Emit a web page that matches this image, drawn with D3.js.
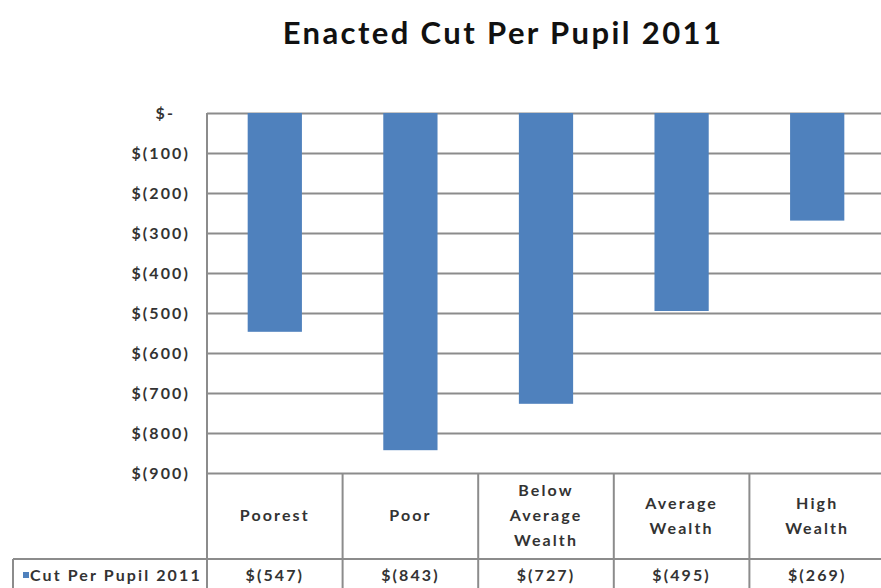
<!DOCTYPE html>
<html>
<head>
<meta charset="utf-8">
<script src="https://cdn.jsdelivr.net/npm/d3@7"></script>
<style>
  html, body { margin: 0; padding: 0; background: #fff; overflow: hidden; }
  svg { display: block; font-family: Lato, "Open Sans", sans-serif; }
</style>
</head>
<body>
<svg id="chart" width="881" height="588"></svg>
<script>
const title = 'Enacted Cut Per Pupil 2011';
const seriesName = 'Cut Per Pupil 2011';
const categories = ['Poorest', 'Poor', 'Below Average Wealth', 'Average Wealth', 'High Wealth'];
// how each category name wraps in the data table header
const categoryLines = [['Poorest'], ['Poor'], ['Below', 'Average', 'Wealth'], ['Average', 'Wealth'], ['High', 'Wealth']];
const cuts = [-547, -843, -727, -495, -269];
const yTicks = [0, -100, -200, -300, -400, -500, -600, -700, -800, -900];

const svg = d3.select('#chart');
const width = 881, height = 588;

const margin = {top: 113, left: 207, right: -4};
const plotBottom = 473;
const headerBottom = 559;
const rowBottom = 600;
const legendLeft = 13;
const grid = '#8c8c8c';
const ink = '#333';

// shared look for the small labels
const labelStyle = sel => sel
  .attr('font-family', 'Lato, "Open Sans", sans-serif')
  .attr('font-size', 16)
  .attr('font-weight', 'bold')
  .attr('letter-spacing', 2.1)
  .attr('fill', ink);

// accounting style, negatives in parentheses
const money = d => d === 0 ? '$-' : `$(${Math.abs(d)})`;

const x = d3.scaleBand()
  .domain(categories)
  .range([margin.left, width - margin.right])
  .paddingInner(0);

const y = d3.scaleLinear()
  .domain([0, -900])
  .range([margin.top, plotBottom]);

svg.append('text')
  .attr('x', 503)
  .attr('y', 44)
  .attr('text-anchor', 'middle')
  .attr('font-size', 31)
  .attr('font-weight', 'bold')
  .attr('letter-spacing', 2.4)
  .attr('fill', '#111')
  .text(title);

// gridlines + y labels
const yAxis = d3.axisLeft(y)
  .tickValues(yTicks)
  .tickSize(0)
  .tickPadding(17)
  .tickFormat(money);

svg.append('g')
  .attr('transform', `translate(${margin.left},0)`)
  .call(yAxis)
  .call(g => g.select('.domain').remove())
  .call(g => g.selectAll('.tick text')
    .call(labelStyle)
    .attr('dx', d => d === 0 ? -15 : 0))
  .call(g => g.selectAll('.tick line').clone()
    .attr('x2', width - margin.right - margin.left)
    .attr('stroke', grid)
    .attr('stroke-width', 2));

svg.append('g')
  .selectAll('rect')
  .data(cuts)
  .join('rect')
    .attr('x', (d, i) => x(categories[i]) + x.bandwidth() * 0.3)
    .attr('width', x.bandwidth() * 0.4)
    .attr('y', y(0))
    .attr('height', d => y(d) - y(0))
    .attr('fill', '#4f81bd');

// data table under the plot
const table = svg.append('g')
  .attr('stroke', grid)
  .attr('stroke-width', 2)
  .attr('fill', 'none');

table.append('line')
  .attr('x1', legendLeft).attr('x2', width)
  .attr('y1', headerBottom).attr('y2', headerBottom);
table.append('line')
  .attr('x1', legendLeft).attr('x2', legendLeft)
  .attr('y1', headerBottom).attr('y2', rowBottom);
table.append('line')
  .attr('x1', margin.left).attr('x2', margin.left)
  .attr('y1', margin.top).attr('y2', rowBottom);
table.selectAll('.col')
  .data(categories)
  .join('line')
    .attr('class', 'col')
    .attr('x1', d => x(d) + x.bandwidth())
    .attr('x2', d => x(d) + x.bandwidth())
    .attr('y1', plotBottom)
    .attr('y2', rowBottom);

const headers = svg.append('g')
  .call(labelStyle)
  .attr('text-anchor', 'middle');

categoryLines.forEach((lines, i) => {
  const cx = x(categories[i]) + x.bandwidth() / 2;
  const mid = (plotBottom + headerBottom) / 2;
  const lineHeight = 25;
  headers.append('text')
    .attr('x', cx)
    .selectAll('tspan')
    .data(lines)
    .join('tspan')
      .attr('x', cx)
      .attr('y', (d, j) => mid + (j - (lines.length - 1) / 2) * lineHeight + 5)
      .text(d => d);
});

svg.append('g')
  .call(labelStyle)
  .attr('text-anchor', 'middle')
  .selectAll('text')
  .data(cuts)
  .join('text')
    .attr('x', (d, i) => x(categories[i]) + x.bandwidth() / 2)
    .attr('y', 581)
    .text(money);

// legend key in the table's first cell
svg.append('rect')
  .attr('x', 23).attr('y', 572)
  .attr('width', 6).attr('height', 6)
  .attr('fill', '#4f81bd');
svg.append('text')
  .call(labelStyle)
  .attr('x', 30)
  .attr('y', 581)
  .text(seriesName);
</script>
</body>
</html>
